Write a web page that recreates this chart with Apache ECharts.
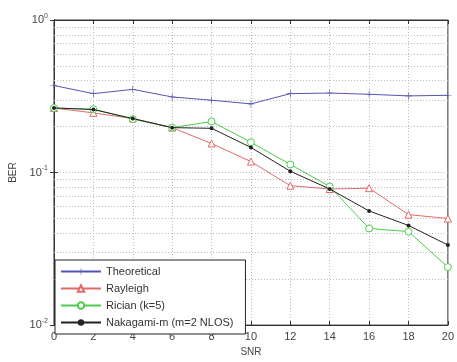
<!DOCTYPE html>
<html>
<head>
<meta charset="utf-8">
<script src="https://cdn.jsdelivr.net/npm/echarts@6/dist/echarts.min.js"></script>
<style>
  html, body { margin: 0; padding: 0; background: #fff; }
  #chart { width: 457px; height: 362px; }
</style>
</head>
<body>
<div id="chart"></div>
<script>
// SNR (dB) on x, BER on a log y axis
const snr = [0, 2, 4, 6, 8, 10, 12, 14, 16, 18, 20];
const theoretical = [0.372, 0.329, 0.351, 0.313, 0.298, 0.282, 0.329, 0.332, 0.326, 0.318, 0.321];
const rayleigh = [0.265, 0.246, 0.226, 0.197, 0.155, 0.118, 0.082, 0.078, 0.079, 0.053, 0.050];
const rician = [0.265, 0.260, 0.224, 0.197, 0.216, 0.158, 0.113, 0.081, 0.043, 0.041, 0.024];
const nakagami = [0.265, 0.259, 0.226, 0.197, 0.195, 0.146, 0.102, 0.078, 0.056, 0.045, 0.0335];
const seriesNames = ["Theoretical", "Rayleigh", "Rician (k=5)", "Nakagami-m (m=2 NLOS)"];
// minor grid levels of the log axis (2..9 x 10^k)
const minorLevels = [0.02, 0.03, 0.04, 0.05, 0.06, 0.07, 0.08, 0.09, 0.2, 0.3, 0.4, 0.5, 0.6, 0.7, 0.8, 0.9];

const pairs = ys => snr.map((x, i) => [x, ys[i]]);
const plusSymbol = "path://M-1,-0.09h2v0.18h-2z M-0.09,-1h0.18v2h-0.18z";
const gridLine = { color: "#bbb", type: [1, 2], width: 1 };

const chart = echarts.init(document.getElementById("chart"), null, { renderer: "canvas" });

chart.setOption({
  backgroundColor: "#fff",
  animation: false,
  textStyle: { fontFamily: "Liberation Sans, Arial, sans-serif" },
  grid: { left: 54, right: 5, top: 20, bottom: 27, show: true, borderColor: "#333", borderWidth: 1 },
  legend: {
    orient: "vertical",
    left: 55,
    top: 260,
    padding: [6, 12, 6, 5],
    itemWidth: 40,
    itemHeight: 8,
    itemGap: 6,
    backgroundColor: "#fff",
    borderColor: "#222",
    borderWidth: 1,
    borderRadius: 0,
    textStyle: { color: "#333", fontSize: 11 },
    data: seriesNames,
  },
  xAxis: [
    {
      type: "value",
      min: 0,
      max: 20,
      interval: 2,
      name: "SNR",
      nameLocation: "middle",
      nameGap: 18,
      nameTextStyle: { color: "#444", fontSize: 10 },
      axisLine: { show: true, lineStyle: { color: "#333" } },
      axisTick: { inside: true, length: 4, lineStyle: { color: "#333" } },
      axisLabel: { color: "#444", fontSize: 11, margin: 6 },
      splitLine: { show: true, lineStyle: gridLine },
    },
    {
      type: "value",
      position: "top",
      min: 0,
      max: 20,
      interval: 2,
      axisLine: { show: true, lineStyle: { color: "#333" } },
      axisTick: { inside: true, length: 4, lineStyle: { color: "#333" } },
      axisLabel: { show: false },
      splitLine: { show: false },
    },
  ],
  yAxis: [
    {
      type: "log",
      logBase: 10,
      min: 0.01,
      max: 1,
      name: "BER",
      nameLocation: "middle",
      nameGap: 36,
      nameTextStyle: { color: "#444", fontSize: 10 },
      axisLine: { show: true, lineStyle: { color: "#333" } },
      axisTick: { inside: true, length: 4, lineStyle: { color: "#333" } },
      axisLabel: {
        color: "#444",
        margin: 6,
        formatter: v => "{b|10}{s|" + Math.round(Math.log10(v)) + "}",
        rich: {
          b: { fontSize: 11, color: "#444" },
          s: { fontSize: 7, color: "#444", verticalAlign: "top", padding: [0, 0, 8, 0] },
        },
      },
      splitLine: { show: true, lineStyle: gridLine },
    },
    {
      type: "log",
      logBase: 10,
      min: 0.01,
      max: 1,
      position: "right",
      axisLine: { show: true, lineStyle: { color: "#333" } },
      axisTick: { inside: true, length: 4, lineStyle: { color: "#333" } },
      axisLabel: { show: false },
      splitLine: { show: false },
    },
  ],
  series: [
    {
      name: seriesNames[0],
      type: "line",
      data: pairs(theoretical),
      symbol: plusSymbol,
      symbolSize: 7,
      lineStyle: { color: "#5555b0", width: 1 },
      itemStyle: { color: "#5555b0" },
      z: 3,
      markLine: {
        silent: true,
        symbol: "none",
        label: { show: false },
        lineStyle: gridLine,
        data: minorLevels.map(v => ({ yAxis: v })),
        z: 1,
      },
    },
    {
      name: seriesNames[1],
      type: "line",
      data: pairs(rayleigh),
      symbol: "triangle",
      symbolSize: 7,
      lineStyle: { color: "#e06a6a", width: 1 },
      itemStyle: { color: "#fff", borderColor: "#e06a6a", borderWidth: 1 },
      z: 4,
    },
    {
      name: seriesNames[2],
      type: "line",
      data: pairs(rician),
      symbol: "circle",
      symbolSize: 7,
      lineStyle: { color: "#4ccc4c", width: 1 },
      itemStyle: { color: "#fff", borderColor: "#4ccc4c", borderWidth: 1 },
      z: 5,
    },
    {
      name: seriesNames[3],
      type: "line",
      data: pairs(nakagami),
      symbol: "circle",
      symbolSize: 4,
      lineStyle: { color: "#222", width: 1 },
      itemStyle: { color: "#222" },
      z: 6,
    },
  ],
});

window.addEventListener("resize", () => chart.resize());
</script>
</body>
</html>
